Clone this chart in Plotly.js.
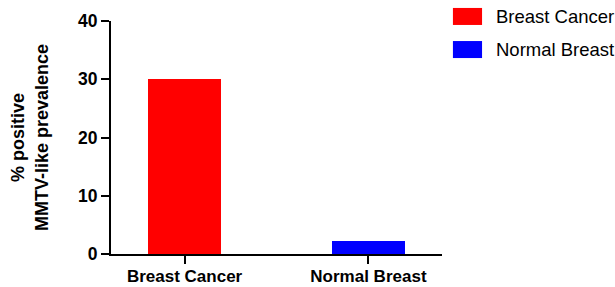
<!DOCTYPE html>
<html>
<head>
<meta charset="utf-8">
<script src="https://cdn.plot.ly/plotly-3.0.1.min.js"></script>
<style>html,body{margin:0;padding:0;background:#fff}#chart{width:615px;height:287px}</style>
</head>
<body>
<div id="chart"></div>
<script>
const categories = ["Breast Cancer", "Normal Breast"];
const values = [30, 2.3];
const colors = ["#ff0000", "#0000ff"];
const yTicks = [0, 10, 20, 30, 40];

const FONT = "Arial, 'Liberation Sans', sans-serif";

const traces = categories.map((c, i) => ({
  type: "bar",
  x: [i],
  y: [values[i]],
  name: c,
  width: 0.4,
  marker: {color: colors[i], line: {width: 0}},
  showlegend: false,
  hoverinfo: "skip"
}));

const shapes = [];
const annotations = [];
categories.forEach((c, i) => {
  const yTop = 1.056 - i * 0.142;
  shapes.push({type: "rect", xref: "paper", yref: "paper",
    x0: 1.033, x1: 1.121, y0: yTop - 0.073, y1: yTop,
    fillcolor: colors[i], line: {width: 0}});
  annotations.push({xref: "paper", yref: "paper", x: 1.158, y: yTop - 0.036,
    xanchor: "left", yanchor: "middle", showarrow: false, text: c,
    font: {family: FONT, size: 18.5, color: "#000"}});
});

const layout = {
  width: 615, height: 287,
  margin: {l: 111, r: 173, t: 21, b: 33},
  paper_bgcolor: "#fff", plot_bgcolor: "#fff",
  font: {family: FONT, color: "#000"},
  bargap: 0,
  xaxis: {
    range: [-0.4, 1.4],
    tickmode: "array", tickvals: categories.map((c, i) => i), ticktext: categories,
    ticks: "outside", ticklen: 8, tickwidth: 2, tickcolor: "#000",
    ticklabelstandoff: -2,
    showline: true, linewidth: 2, linecolor: "#000",
    showgrid: false, zeroline: false,
    tickfont: {family: FONT, size: 17, weight: "bold", color: "#000"}
  },
  yaxis: {
    range: [0, 40],
    tickmode: "array", tickvals: yTicks,
    ticks: "outside", ticklen: 8, tickwidth: 2, tickcolor: "#000",
    showline: true, linewidth: 2, linecolor: "#000",
    showgrid: false, zeroline: false,
    tickfont: {family: FONT, size: 17.5, weight: "bold", color: "#000"},
    title: {text: "% positive<br>MMTV-like prevalence", standoff: 25,
      font: {family: FONT, size: 18, weight: "bold", color: "#000"}}
  },
  shapes: shapes,
  annotations: annotations
};

Plotly.newPlot("chart", traces, layout, {displayModeBar: false, staticPlot: true});
</script>
</body>
</html>
